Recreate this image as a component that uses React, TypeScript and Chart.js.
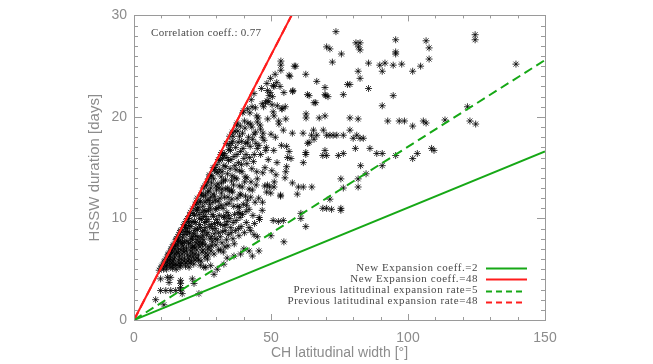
import React, { useEffect, useRef } from 'react';
import { Chart, registerables } from 'chart.js';

Chart.register(...registerables);

// ---- axis settings ----
const xRange = [0, 150];
const yRange = [0, 30];
const xTickValues = [0, 50, 100, 150];
const yTickValues = [0, 10, 20, 30];
const xMinorStep = 10;
const yMinorStep = 1;
const xTitle = 'CH latitudinal width [°]';
const yTitle = 'HSSW duration [days]';
const correlationText = 'Correlation coeff.: 0.77';

// ---- reference lines (x, y end points) ----
const lineLabels = [
  'New Expansion coeff.=2',
  'New Expansion coeff.=48',
  'Previous latitudinal expansion rate=5',
  'Previous latitudinal expansion rate=48',
];
const greenSolidLine = [[0, 0], [150, 16.6]];
const redSolidLine = [[0, 0], [57.5, 30]];
const greenDashedLine = [[0, 0], [150, 25.6]];
const redDashedLine = [[0, 0], [57.5, 30]];

// ---- scatter: [CH latitudinal width, HSSW duration] ----
const sparseUpperPoints = [
  [73.7, 28.4], [70.3, 26.9], [71.5, 26.7], [72.4, 25.4], [75.7, 26.2], [81.0, 27.3], [82.5, 27.3], [81.9, 26.9],
  [82.5, 26.6], [95.5, 27.6], [95.5, 26.4], [95.5, 26.2], [106.6, 27.5], [107.7, 26.8], [107.7, 25.7], [124.5, 28.1],
  [124.5, 27.6], [139.4, 25.2], [53.6, 25.5], [53.6, 25.1], [53.6, 24.6], [58.5, 25.0], [56.9, 24.0], [62.7, 24.2],
  [66.7, 23.5], [57.9, 22.5], [63.9, 22.1], [65.7, 21.4], [69.7, 22.9], [69.7, 22.2], [70.8, 22.0], [76.4, 22.2],
  [77.9, 23.2], [78.8, 23.2], [81.8, 24.5], [82.5, 23.8], [85.6, 25.3], [85.6, 22.8], [89.7, 25.1], [90.6, 24.5],
  [91.6, 25.3], [94.6, 25.1], [97.7, 25.2], [101.7, 24.5], [104.6, 25.0], [94.6, 22.1], [90.6, 21.1],
  [62.8, 20.3], [62.8, 19.9], [67.6, 19.9], [69.7, 20.1], [78.8, 19.9], [81.8, 19.8], [92.6, 19.6], [96.8, 19.6],
  [98.7, 19.6], [101.7, 19.1], [105.6, 19.6], [106.6, 19.4], [113.5, 19.7], [121.7, 21.0], [122.6, 19.6], [124.7, 19.3],
  [57.8, 18.4], [61.7, 18.4], [64.8, 18.2], [65.5, 18.7], [66.7, 18.2], [69.1, 18.7], [70.3, 18.2], [71.5, 18.2],
  [72.7, 18.2], [74.0, 18.2], [76.4, 18.2], [78.8, 18.7], [80.0, 17.9], [81.3, 18.2], [82.5, 17.9], [83.7, 17.9],
  [63.4, 17.4], [55.7, 17.1], [62.7, 16.5], [69.7, 16.7], [70.3, 16.2], [68.9, 16.2], [74.6, 16.2], [76.4, 16.4],
  [80.8, 16.9], [86.1, 16.9], [88.6, 16.4], [90.6, 16.4], [95.5, 16.2], [101.7, 15.9], [103.4, 16.4], [108.6, 16.9],
  [109.5, 16.7], [57.3, 15.9], [61.8, 15.5], [55.7, 15.1], [82.7, 15.2], [90.6, 15.2], [84.7, 14.4],
  [63.9, 17.5], [65.7, 17.8], [56.6, 16.6], [62.7, 16.3], [55.4, 14.6],
];

const sparseLowerPoints = [
  [57.8, 13.5], [60.0, 13.1], [61.8, 13.1], [64.9, 13.1], [59.6, 12.4], [75.5, 13.9], [76.4, 13.0], [81.8, 13.9],
  [81.8, 13.1], [71.5, 11.9], [68.9, 11.0], [70.3, 11.0], [72.1, 10.9], [75.5, 11.0], [75.5, 10.8], [60.9, 10.5],
  [60.9, 10.0], [62.7, 9.2], [50.8, 9.8], [52.7, 9.7], [54.5, 9.8], [50.0, 8.3], [54.7, 7.7], [45.7, 10.1],
  [41.1, 11.3], [40.9, 10.7], [38.7, 10.1], [38.7, 10.5],
  [7.9, 2.0], [10.9, 1.5], [9.7, 2.9], [11.6, 2.9], [13.4, 2.9], [15.2, 2.9], [17.0, 2.9], [12.8, 3.7],
  [13.4, 4.2], [17.0, 3.9], [17.0, 3.6], [17.0, 3.2], [9.7, 4.05], [12.2, 4.2], [21.3, 4.05], [21.9, 3.6],
  [17.6, 2.6], [23.7, 2.6], [29.2, 4.5], [25.5, 5.2],
  [34.0, 6.1], [36.5, 6.3], [38.9, 6.5], [32.8, 5.5], [30.4, 5.0], [26.2, 5.2], [28.0, 5.35], [40.1, 7.0],
  [42.0, 6.8], [43.2, 6.3], [42.0, 9.1], [42.6, 8.8], [43.8, 8.4], [45.0, 8.2], [45.6, 6.8],
];

const clusterPoints = [
  [9.2, 4.9], [10.1, 5.3], [10.8, 5.0], [11.3, 5.8], [9.8, 5.1],
  [11.6, 6.0], [12.0, 5.4], [12.4, 6.4], [12.8, 5.9], [11.9, 5.0], [12.6, 6.5], [13.1, 6.3],
  [13.4, 5.2], [13.6, 7.0], [13.9, 6.6], [14.2, 5.8], [14.4, 7.4], [14.8, 6.2], [14.1, 5.1], [14.9, 7.0], [13.3, 6.0],
  [15.1, 5.5], [15.3, 7.9], [15.6, 6.7], [15.9, 7.4], [16.2, 5.9], [16.4, 8.4], [16.6, 6.3], [16.9, 7.8], [15.4, 5.0],
  [16.0, 8.2], [16.8, 5.2], [15.8, 7.9],
  [17.1, 6.9], [17.3, 8.9], [17.5, 5.6], [17.7, 8.1], [17.9, 7.3], [18.2, 9.4], [18.4, 6.1], [18.6, 8.7], [18.8, 5.3],
  [18.1, 7.0], [18.9, 9.7], [17.6, 6.5], [18.5, 7.7],
  [19.1, 6.8], [19.3, 8.4], [19.5, 10.0], [19.7, 5.8], [19.9, 7.5], [20.2, 9.3], [20.4, 6.3], [20.6, 10.6], [20.8, 8.0],
  [20.1, 5.2], [20.9, 7.1], [19.4, 9.0], [20.5, 5.6], [19.8, 10.0],
  [21.1, 9.7], [21.3, 6.6], [21.5, 11.0], [21.7, 8.5], [21.9, 7.3], [22.1, 10.3], [22.3, 5.9], [22.5, 11.4], [22.7, 9.0],
  [22.9, 6.9], [21.4, 7.9], [22.0, 8.8], [22.6, 7.6], [21.8, 5.5], [22.8, 10.8],
  [23.1, 12.0], [23.3, 8.2], [23.5, 6.4], [23.7, 10.4], [23.9, 9.4], [24.1, 7.2], [24.3, 11.7], [24.5, 5.8], [24.7, 12.5],
  [24.9, 8.7], [23.4, 11.1], [24.0, 10.0], [24.6, 9.9], [23.8, 7.7], [24.8, 6.7], [24.2, 5.4],
  [25.1, 11.2], [25.3, 13.0], [25.5, 7.9], [25.7, 9.6], [25.9, 6.2], [26.1, 12.3], [26.3, 10.7], [26.5, 8.4], [26.7, 13.6],
  [26.9, 7.0], [25.4, 10.2], [26.0, 9.1], [26.6, 11.8], [25.8, 13.2], [26.8, 6.0], [25.2, 6.9],
  [27.1, 9.9], [27.3, 12.7], [27.5, 14.3], [27.7, 8.0], [27.9, 11.0], [28.1, 6.8], [28.3, 13.5], [28.5, 10.4], [28.7, 9.0],
  [28.9, 15.0], [27.4, 7.2], [28.0, 12.1], [28.6, 7.7], [27.8, 14.2], [28.8, 11.6], [27.2, 10.8],
  [29.1, 13.9], [29.3, 8.5], [29.5, 15.0], [29.7, 10.9], [29.9, 7.4], [30.1, 12.8], [30.3, 15.3], [30.5, 9.6], [30.7, 11.7],
  [30.9, 6.9], [29.4, 12.2], [30.0, 14.6], [30.6, 13.4], [29.8, 9.0], [30.8, 15.8], [29.2, 6.5],
  [31.1, 10.3], [31.3, 14.8], [31.5, 8.2], [31.7, 16.3], [31.9, 12.5], [32.1, 7.6], [32.3, 15.9], [32.5, 11.0], [32.7, 13.7],
  [32.9, 9.3], [31.4, 12.0], [32.0, 16.5], [32.6, 6.7], [31.8, 14.1], [32.8, 15.2],
  [33.1, 16.4], [33.3, 8.8], [33.5, 12.9], [33.7, 17.4], [33.9, 10.6], [34.1, 14.4], [34.3, 7.3], [34.5, 15.7], [34.7, 11.5],
  [34.9, 18.1], [33.4, 13.8], [34.0, 9.7], [34.6, 16.8], [33.8, 7.9], [34.8, 12.7],
  [35.1, 14.9], [35.3, 9.1], [35.5, 17.4], [35.7, 11.9], [35.9, 18.5], [36.1, 8.0], [36.3, 13.3], [36.5, 16.1], [36.7, 10.4],
  [36.9, 18.6], [35.4, 15.8], [36.0, 12.6], [36.6, 7.5], [35.8, 14.2],
  [37.1, 17.0], [37.3, 9.8], [37.5, 13.9], [37.7, 19.4], [37.9, 11.2], [38.1, 15.5], [38.3, 8.3], [38.5, 18.1], [38.7, 12.4],
  [38.9, 16.6], [37.4, 19.2], [38.0, 10.6], [38.6, 14.7],
  [39.1, 9.2], [39.3, 17.6], [39.5, 13.1], [39.7, 20.4], [39.9, 11.4], [40.1, 15.9], [40.3, 8.6], [40.5, 18.9], [40.7, 12.2],
  [40.9, 16.3], [39.4, 14.6], [40.0, 20.6],
  [41.2, 14.0], [41.6, 19.4], [42.0, 10.9], [42.4, 17.1], [42.8, 21.7], [43.2, 12.8], [43.6, 15.6], [44.0, 9.5], [44.4, 18.5],
  [44.8, 20.1], [41.4, 11.8], [42.2, 16.0], [43.0, 14.9], [43.8, 22.3], [44.6, 13.3], [45.0, 16.9],
  [45.5, 12.0], [46.0, 19.2], [46.5, 22.8], [47.0, 14.5], [47.5, 17.7], [48.0, 21.4], [48.5, 23.3], [49.0, 15.8], [49.5, 13.1],
  [50.0, 18.3], [50.5, 22.0], [51.0, 16.7], [51.5, 24.2], [46.8, 10.8], [48.8, 19.8], [50.8, 20.5], [47.8, 15.0], [49.8, 23.8],
  [51.8, 14.3], [45.8, 9.9],
];

const clusterCorePoints = [
  [12.2, 5.7], [13.0, 5.5], [13.7, 6.9], [14.6, 6.0], [15.2, 7.3], [15.7, 5.4], [16.3, 7.0], [16.7, 8.6], [17.2, 6.0],
  [17.8, 7.6], [18.3, 5.8], [18.7, 9.1], [19.2, 7.1], [19.6, 8.7], [20.0, 6.0], [20.3, 8.6], [20.7, 6.8], [21.2, 8.2],
  [21.6, 6.2], [22.2, 7.1], [22.4, 9.6], [23.0, 6.1], [23.2, 8.9], [23.6, 7.4], [24.4, 8.1], [24.8, 10.6], [25.0, 7.5],
  [25.6, 8.8], [26.2, 6.6], [26.4, 9.7], [27.0, 8.6], [27.6, 11.4], [28.2, 9.4], [28.4, 7.3], [29.0, 10.2], [29.6, 8.0],
  [30.2, 9.9], [30.4, 7.9], [31.0, 11.1], [31.6, 9.4], [32.2, 12.9], [32.4, 8.7], [33.0, 10.1], [33.6, 11.4], [34.2, 13.0],
  [34.4, 8.4], [35.0, 10.0], [35.6, 12.8], [36.2, 9.6], [36.8, 14.0], [37.6, 12.0], [38.2, 9.0], [39.0, 12.3], [39.6, 10.4],
  [40.4, 13.6], [41.0, 9.6], [42.6, 12.1], [43.4, 10.3], [44.2, 11.6],
];

const clusterFillPoints = [
  [10.5, 5.4], [11.0, 5.7], [11.7, 5.3], [12.3, 6.2], [12.9, 6.6], [13.5, 6.8], [14.0, 7.2], [14.7, 7.5], [13.8, 5.6],
  [14.5, 5.4], [15.0, 6.5],
  [15.5, 8.0], [16.1, 6.6], [16.5, 5.6], [17.0, 8.8], [17.4, 7.5], [18.0, 8.4], [18.5, 9.3], [19.0, 5.6], [19.5, 6.4],
  [19.9, 9.6], [18.3, 6.7], [17.0, 5.4], [16.2, 7.7], [19.3, 7.8],
  [20.3, 10.3], [20.8, 9.2], [21.0, 5.8], [21.6, 10.5], [22.0, 9.7], [22.3, 6.5], [22.7, 11.6], [23.2, 10.9], [23.6, 5.9],
  [24.0, 11.6], [24.5, 12.3], [24.3, 9.1], [23.0, 7.9], [21.4, 7.2], [24.8, 7.6], [22.5, 8.3], [20.5, 7.6],
  [25.3, 12.2], [25.6, 10.8], [25.9, 11.6], [26.4, 13.3], [26.9, 12.6], [27.2, 13.9], [27.6, 9.2], [28.0, 13.0],
  [28.4, 14.2], [28.9, 12.4], [29.3, 14.8], [29.7, 11.8], [25.1, 8.3], [26.0, 7.4], [27.0, 6.4], [28.2, 8.2],
  [29.4, 9.5], [29.9, 13.2], [27.4, 11.8], [26.2, 10.2],
  [30.2, 11.0], [30.6, 14.5], [31.0, 13.0], [31.3, 15.7], [31.8, 11.3], [32.2, 14.6], [32.6, 16.2], [33.0, 12.1],
  [33.5, 15.1], [33.9, 16.0], [34.3, 12.1], [34.8, 17.2], [30.9, 8.6], [31.5, 6.9], [32.7, 10.2], [33.6, 9.4],
  [34.5, 10.3], [33.2, 7.2], [31.9, 13.5],
  [35.2, 16.7], [35.6, 13.7], [36.0, 17.6], [36.4, 11.2], [36.8, 15.2], [37.2, 14.8], [37.6, 16.3], [38.0, 17.5],
  [38.4, 13.2], [38.8, 19.1], [39.2, 15.3], [39.6, 18.4], [35.5, 8.6], [37.0, 8.8], [38.5, 11.1], [39.8, 16.9],
  [36.2, 18.1], [37.9, 18.6],
  [40.3, 19.6], [40.8, 17.4], [41.2, 15.4], [41.8, 18.0], [42.3, 20.4], [42.7, 13.6], [43.3, 17.8], [43.9, 16.3],
  [44.3, 20.9], [44.8, 14.6], [41.5, 20.8], [43.1, 21.0], [40.6, 14.1], [42.0, 12.9],
];

const clusterOuterPoints = [
  [49.7, 22.4], [50.9, 23.1], [52.1, 23.4], [53.3, 23.0], [49.2, 21.5], [47.3, 21.0], [48.6, 21.6], [50.4, 21.2],
  [53.9, 20.8], [55.2, 21.0], [43.0, 19.0], [45.3, 19.9], [47.1, 18.4], [52.8, 19.6], [54.5, 18.7], [51.6, 18.0],
  [44.5, 17.4], [46.2, 16.3], [48.3, 17.0], [52.2, 15.5], [53.8, 17.2], [56.0, 16.0], [50.3, 14.7], [47.7, 13.2],
  [55.1, 14.0], [45.0, 13.9], [48.4, 12.6], [51.2, 13.6], [53.5, 12.2], [46.9, 11.6],
  [48.7, 22.6], [51.1, 23.0], [54.7, 22.4], [49.3, 22.1], [46.8, 21.3], [52.3, 21.1], [54.1, 20.8], [51.1, 20.1],
  [52.9, 19.3], [55.4, 19.8], [42.6, 19.3], [45.0, 19.5], [46.2, 18.8], [43.8, 18.3], [46.8, 18.0], [45.6, 17.2],
  [41.4, 17.5], [48.1, 16.7], [48.7, 13.3], [51.1, 13.1], [53.5, 12.3], [49.9, 12.5],
  [56.6, 24.1], [59.0, 25.0], [63.3, 22.2], [58.0, 22.6], [66.3, 21.4], [70.0, 22.1],
];

const scatterPoints = [
  ...clusterPoints, ...clusterCorePoints, ...clusterFillPoints, ...clusterOuterPoints,
  ...sparseUpperPoints, ...sparseLowerPoints,
];

const axisGrey = '#9a9a9a';
const labelGrey = '#8c8c8c';
const green = '#16a816';
const red = '#ff1c1c';

const toXY = (pts: number[][]) => pts.map(([x, y]) => ({ x, y }));

const framePlugin = {
  id: 'idlFrame',
  afterDraw(chart: any) {
    const { ctx, chartArea } = chart;
    const { left, right, top, bottom } = chartArea;
    const xs = chart.scales.x;
    const ys = chart.scales.y;
    ctx.save();
    ctx.strokeStyle = axisGrey;
    ctx.lineWidth = 1;
    ctx.strokeRect(Math.round(left) + 0.5, Math.round(top) + 0.5, Math.round(right - left), Math.round(bottom - top));
    ctx.beginPath();
    for (let v = xRange[0]; v <= xRange[1] + 1e-9; v += xMinorStep) {
      const p = Math.round(xs.getPixelForValue(v)) + 0.5;
      const len = xTickValues.includes(v) ? 6 : 3;
      ctx.moveTo(p, bottom); ctx.lineTo(p, bottom - len);
      ctx.moveTo(p, top); ctx.lineTo(p, top + len);
    }
    for (let v = yRange[0]; v <= yRange[1] + 1e-9; v += yMinorStep) {
      const p = Math.round(ys.getPixelForValue(v)) + 0.5;
      const len = yTickValues.includes(v) ? 8 : 4;
      ctx.moveTo(left, p); ctx.lineTo(left + len, p);
      ctx.moveTo(right, p); ctx.lineTo(right - len, p);
    }
    ctx.stroke();

    // correlation annotation
    ctx.fillStyle = '#4a4a4a';
    ctx.font = '11px "Liberation Serif"';
    (ctx as any).letterSpacing = '0.3px';
    ctx.textAlign = 'left';
    ctx.textBaseline = 'middle';
    ctx.fillText(correlationText, left + 17, top + 18);

    // legend (bottom right, text right-aligned, line sample on the right)
    const lineSets = chart.data.datasets.filter((d: any) => d.type === 'line');
    lineSets.sort((a: any, b: any) => a.legendIndex - b.legendIndex);
    (ctx as any).letterSpacing = '0.55px';
    ctx.textAlign = 'right';
    lineSets.forEach((d: any, i: number) => {
      const y = bottom - 51.7 + i * 11.1;
      ctx.fillStyle = '#4a4a4a';
      ctx.fillText(d.label, right - 67, y);
      ctx.beginPath();
      ctx.strokeStyle = d.borderColor;
      ctx.lineWidth = 2;
      if (d.borderDash && d.borderDash.length) {
        ctx.setLineDash([6, 4]);
        ctx.moveTo(right - 59, Math.round(y) + 0.5);
        ctx.lineTo(right - 22, Math.round(y) + 0.5);
      } else {
        ctx.setLineDash([]);
        ctx.moveTo(right - 59, Math.round(y) + 0.5);
        ctx.lineTo(right - 18, Math.round(y) + 0.5);
      }
      ctx.stroke();
    });
    ctx.setLineDash([]);
    (ctx as any).letterSpacing = '0px';
    ctx.restore();
  },
};

export default function App() {
  const canvasRef = useRef<HTMLCanvasElement | null>(null);

  useEffect(() => {
    const canvas = canvasRef.current;
    if (!canvas) return;
    const tickFont = { family: '"Liberation Sans", sans-serif', size: 14, lineHeight: 1.2 };
    const yTitleFont = { family: '"Liberation Sans", sans-serif', size: 15, lineHeight: 1.2 };
    const chart = new Chart(canvas, {
      type: 'scatter',
      data: {
        datasets: [
          {
            type: 'line', label: lineLabels[0], legendIndex: 0, data: toXY(greenSolidLine),
            borderColor: green, borderWidth: 2, pointRadius: 0, fill: false, order: 0,
          } as any,
          {
            type: 'line', label: lineLabels[1], legendIndex: 1, data: toXY(redSolidLine),
            borderColor: red, borderWidth: 2, pointRadius: 0, fill: false, order: 0,
          } as any,
          {
            type: 'line', label: lineLabels[2], legendIndex: 2, data: toXY(greenDashedLine),
            borderColor: green, borderWidth: 2, borderDash: [9, 5], pointRadius: 0, fill: false, order: 0,
          } as any,
          {
            type: 'line', label: lineLabels[3], legendIndex: 3, data: toXY(redDashedLine),
            borderColor: red, borderWidth: 2, borderDash: [9, 5], pointRadius: 0, fill: false, order: 0.5,
          } as any,
          {
            type: 'scatter', label: 'HSSW events', data: toXY(scatterPoints),
            pointStyle: 'star', pointRadius: 3.5, borderColor: 'rgba(0,0,0,0.78)', backgroundColor: 'rgba(0,0,0,0)',
            pointBorderWidth: 1, borderWidth: 1, order: 1,
          } as any,
        ],
      },
      options: {
        animation: false,
        responsive: false,
        maintainAspectRatio: false,
        layout: { padding: { left: 0, right: 108, top: 12, bottom: 0 } },
        plugins: { legend: { display: false }, tooltip: { enabled: false } },
        scales: {
          x: {
            type: 'linear', position: 'bottom', min: xRange[0], max: xRange[1],
            afterBuildTicks: (s: any) => { s.ticks = xTickValues.map((v) => ({ value: v })); },
            afterFit: (s: any) => { s.height = 44; },
            ticks: { color: labelGrey, font: tickFont, padding: 10, maxRotation: 0, autoSkip: false },
            grid: { display: false, drawTicks: false },
            border: { display: false },
            title: { display: true, text: xTitle, color: labelGrey, font: tickFont, padding: { top: 0, bottom: 2 } },
          },
          y: {
            type: 'linear', position: 'left', min: yRange[0], max: yRange[1],
            afterBuildTicks: (s: any) => { s.ticks = yTickValues.map((v) => ({ value: v })); },
            afterFit: (s: any) => { s.width = 134; },
            ticks: { color: labelGrey, font: tickFont, padding: 7, autoSkip: false },
            grid: { display: false, drawTicks: false },
            border: { display: false },
            title: { display: true, text: yTitle, color: labelGrey, font: yTitleFont, padding: { top: 86, bottom: 0 } },
          },
        },
      },
      plugins: [framePlugin],
    });
    return () => chart.destroy();
  }, []);

  return (
    <div style={{ position: 'absolute', left: 0, top: 0, width: 653, height: 364, background: '#fff' }}>
      <canvas ref={canvasRef} width={653} height={364} style={{ width: 653, height: 364, display: 'block' }} />
    </div>
  );
}
